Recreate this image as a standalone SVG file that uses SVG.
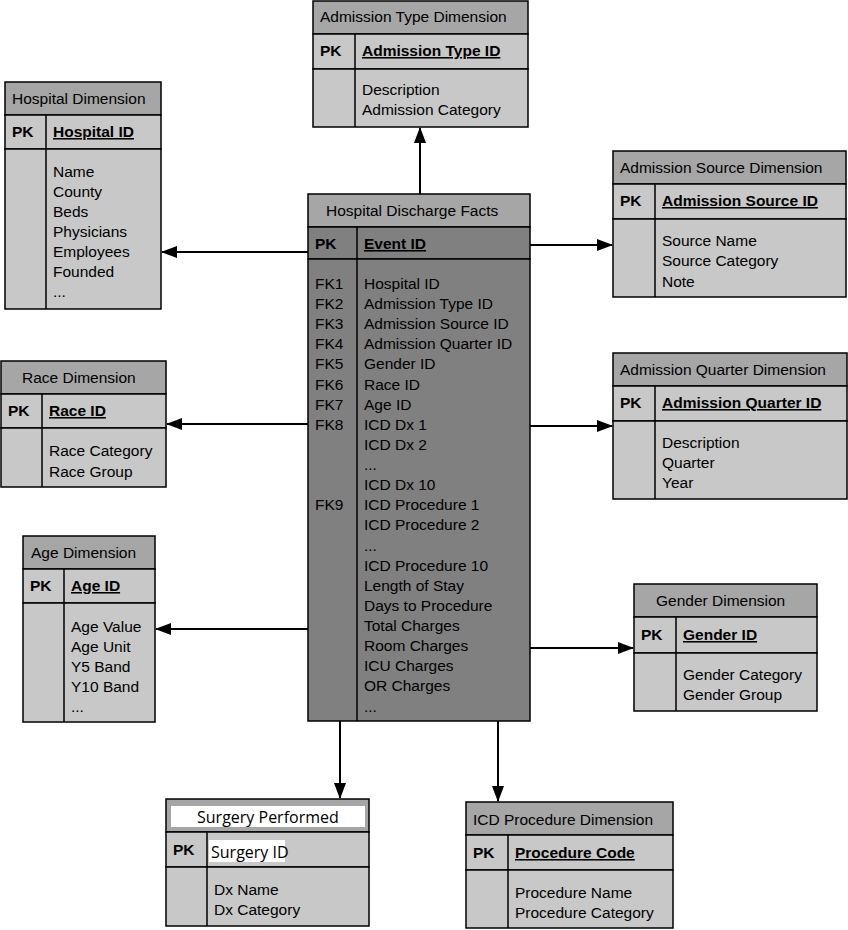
<svg xmlns="http://www.w3.org/2000/svg" width="848" height="930" viewBox="0 0 848 930">
<style>
text{font-family:"Liberation Sans",Arial,sans-serif;font-size:15.5px;fill:#000}
.h{fill:#a6a6a6;stroke:#000;stroke-width:1.5}
.b{fill:#c8c8c8;stroke:#000;stroke-width:1.5}
.fb{fill:#808080;stroke:#000;stroke-width:1.5}
.d{stroke:#000;stroke-width:1.5}
.k{font-weight:bold}
.u{font-weight:bold;text-decoration:underline}
.c{font-family:"Open Sans","Noto Sans",sans-serif;font-size:16px}
.cn{stroke:#000;stroke-width:2;fill:none;marker-end:url(#a)}
</style>
<defs><marker id="a" markerWidth="16" markerHeight="12" refX="15" refY="6" orient="auto" markerUnits="userSpaceOnUse"><path d="M0,0L16,6L0,12Z" fill="#000"/></marker></defs>
<g id="connectors">
<line class="cn" x1="420" y1="194" x2="420" y2="128"/>
<line class="cn" x1="308" y1="252" x2="162" y2="252"/>
<line class="cn" x1="530" y1="245" x2="612" y2="245"/>
<line class="cn" x1="308" y1="424" x2="167" y2="424"/>
<line class="cn" x1="530" y1="426" x2="612" y2="426"/>
<line class="cn" x1="308" y1="629" x2="156" y2="629"/>
<line class="cn" x1="530" y1="648" x2="633" y2="648"/>
<line class="cn" x1="340" y1="721" x2="340" y2="798"/>
<line class="cn" x1="498" y1="721" x2="498" y2="801"/>
</g>
<g id="admission-type">
<rect class="h" x="313" y="1" width="215" height="33"/><rect class="b" x="313" y="34" width="215" height="35"/><rect class="b" x="313" y="69" width="215" height="58"/><line class="d" x1="355" y1="34" x2="355" y2="127"/>
<text x="320" y="22">Admission Type Dimension</text><text class="k" x="320" y="56">PK</text><text class="u" x="362" y="56">Admission Type ID</text>
<text x="362" y="95">Description</text><text x="362" y="115">Admission Category</text>
</g>
<g id="hospital">
<rect class="h" x="5" y="82" width="156" height="33"/><rect class="b" x="5" y="115" width="156" height="34"/><rect class="b" x="5" y="149" width="156" height="160"/><line class="d" x1="46" y1="115" x2="46" y2="309"/>
<text x="12" y="104">Hospital Dimension</text><text class="k" x="12" y="137">PK</text><text class="u" x="53" y="137">Hospital ID</text>
<text x="53" y="177">Name</text><text x="53" y="197">County</text><text x="53" y="217">Beds</text><text x="53" y="237">Physicians</text><text x="53" y="257">Employees</text><text x="53" y="277">Founded</text><text x="53" y="297">...</text>
</g>
<g id="admission-source">
<rect class="h" x="613" y="151" width="233" height="33"/><rect class="b" x="613" y="184" width="233" height="35"/><rect class="b" x="613" y="219" width="233" height="78"/><line class="d" x1="655" y1="184" x2="655" y2="297"/>
<text x="620" y="173">Admission Source Dimension</text><text class="k" x="620" y="206">PK</text><text class="u" x="662" y="206">Admission Source ID</text>
<text x="662" y="246">Source Name</text><text x="662" y="266">Source Category</text><text x="662" y="287">Note</text>
</g>
<g id="race">
<rect class="h" x="1" y="361" width="165" height="33"/><rect class="b" x="1" y="394" width="165" height="34"/><rect class="b" x="1" y="428" width="165" height="59"/><line class="d" x1="42" y1="394" x2="42" y2="487"/>
<text x="22" y="383">Race Dimension</text><text class="k" x="8" y="416">PK</text><text class="u" x="49" y="416">Race ID</text>
<text x="49" y="456">Race Category</text><text x="49" y="477">Race Group</text>
</g>
<g id="admission-quarter">
<rect class="h" x="613" y="353" width="234" height="33"/><rect class="b" x="613" y="386" width="234" height="35"/><rect class="b" x="613" y="421" width="234" height="78"/><line class="d" x1="655" y1="386" x2="655" y2="499"/>
<text x="620" y="375">Admission Quarter Dimension</text><text class="k" x="620" y="408">PK</text><text class="u" x="662" y="408">Admission Quarter ID</text>
<text x="662" y="448">Description</text><text x="662" y="468">Quarter</text><text x="662" y="488">Year</text>
</g>
<g id="age">
<rect class="h" x="23" y="536" width="132" height="33"/><rect class="b" x="23" y="569" width="132" height="34"/><rect class="b" x="23" y="603" width="132" height="119"/><line class="d" x1="64" y1="569" x2="64" y2="722"/>
<text x="31" y="558">Age Dimension</text><text class="k" x="30" y="591">PK</text><text class="u" x="71" y="591">Age ID</text>
<text x="71" y="632">Age Value</text><text x="71" y="652">Age Unit</text><text x="71" y="672">Y5 Band</text><text x="71" y="692">Y10 Band</text><text x="71" y="712">...</text>
</g>
<g id="gender">
<rect class="h" x="634" y="584" width="183" height="33"/><rect class="b" x="634" y="617" width="183" height="36"/><rect class="b" x="634" y="653" width="183" height="58"/><line class="d" x1="676" y1="617" x2="676" y2="711"/>
<text x="656" y="606">Gender Dimension</text><text class="k" x="641" y="640">PK</text><text class="u" x="683" y="640">Gender ID</text>
<text x="683" y="680">Gender Category</text><text x="683" y="700">Gender Group</text>
</g>
<g id="surgery">
<rect class="h" x="166" y="799" width="203" height="33"/><rect x="171" y="806" width="194" height="21" fill="#fff"/><rect class="b" x="166" y="832" width="203" height="35"/><rect x="209" y="840" width="76" height="22" fill="#fff"/><rect class="b" x="166" y="867" width="203" height="59"/><line class="d" x1="207" y1="832" x2="207" y2="926"/>
<text class="c" x="197" y="823">Surgery Performed</text><text class="k" x="173" y="855">PK</text><text class="c" x="211" y="858">Surgery ID</text>
<text x="214" y="895">Dx Name</text><text x="214" y="915">Dx Category</text>
</g>
<g id="icd-procedure">
<rect class="h" x="466" y="802" width="207" height="33"/><rect class="b" x="466" y="835" width="207" height="35"/><rect class="b" x="466" y="870" width="207" height="58"/><line class="d" x1="508" y1="835" x2="508" y2="928"/>
<text x="473" y="825">ICD Procedure Dimension</text><text class="k" x="473" y="858">PK</text><text class="u" x="515" y="858">Procedure Code</text>
<text x="515" y="898">Procedure Name</text><text x="515" y="918">Procedure Category</text>
</g>
<g id="facts">
<rect class="h" x="308" y="194" width="222" height="33"/><rect class="fb" x="308" y="227" width="222" height="32"/><rect class="fb" x="308" y="259" width="222" height="462"/><line class="d" x1="357" y1="227" x2="357" y2="721"/>
<text x="326" y="216">Hospital Discharge Facts</text><text class="k" x="315" y="249">PK</text><text class="u" x="364" y="249">Event ID</text>
<text x="315" y="289">FK1</text><text x="315" y="309">FK2</text><text x="315" y="329">FK3</text><text x="315" y="349">FK4</text><text x="315" y="369">FK5</text><text x="315" y="390">FK6</text><text x="315" y="410">FK7</text><text x="315" y="430">FK8</text><text x="315" y="510">FK9</text>
<text x="364" y="289">Hospital ID</text><text x="364" y="309">Admission Type ID</text><text x="364" y="329">Admission Source ID</text><text x="364" y="349">Admission Quarter ID</text><text x="364" y="369">Gender ID</text><text x="364" y="390">Race ID</text><text x="364" y="410">Age ID</text><text x="364" y="430">ICD Dx 1</text><text x="364" y="450">ICD Dx 2</text><text x="364" y="470">...</text><text x="364" y="490">ICD Dx 10</text><text x="364" y="510">ICD Procedure 1</text><text x="364" y="530">ICD Procedure 2</text><text x="364" y="551">...</text><text x="364" y="571">ICD Procedure 10</text><text x="364" y="591">Length of Stay</text><text x="364" y="611">Days to Procedure</text><text x="364" y="631">Total Charges</text><text x="364" y="651">Room Charges</text><text x="364" y="671">ICU Charges</text><text x="364" y="691">OR Charges</text><text x="364" y="712">...</text>
</g>
</svg>
